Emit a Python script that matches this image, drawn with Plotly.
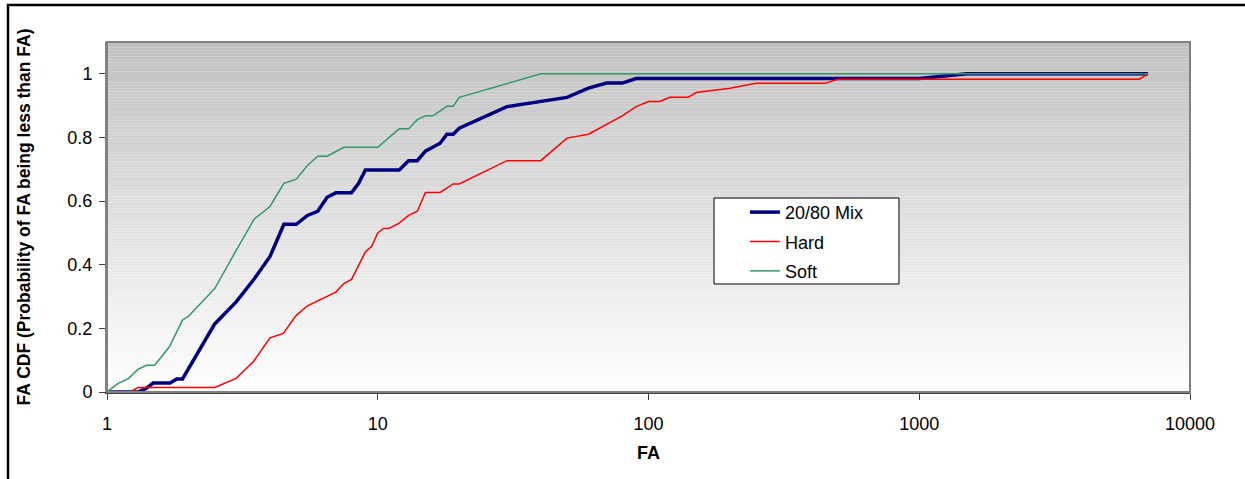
import plotly.graph_objects as go

# ---- data ----
mix_x = [1, 1.3, 1.4, 1.48, 1.71, 1.81, 1.9, 2.5, 3.0, 3.5, 4.0, 4.5, 5.0, 5.5, 6.0, 6.5, 7.0, 8.0, 8.5, 9.0,
         12.0, 13.0, 14.0, 15.0, 17.0, 18.0, 19.0, 20.0, 30.0, 50.0, 60.0, 70.0, 80.0, 90.0, 1000, 1500, 7000]
mix_y = [0, 0, 0.012, 0.028, 0.028, 0.041, 0.041, 0.214, 0.283, 0.356, 0.426, 0.527, 0.527, 0.555, 0.568, 0.612, 0.626, 0.626, 0.656, 0.698,
         0.698, 0.727, 0.727, 0.757, 0.782, 0.81, 0.81, 0.829, 0.897, 0.926, 0.955, 0.971, 0.971, 0.985, 0.985, 1.0, 1.0]

hard_x = [1, 1.22, 1.3, 2.5, 3.0, 3.47, 4.0, 4.48, 5.0, 5.5, 7.0, 7.5, 8.0, 9.0, 9.5, 10.0, 10.5, 11.0, 12.0, 13.0, 14.0,
          15.0, 17.0, 19.0, 20.0, 30.0, 40.0, 50.0, 60.0, 70.0, 80.0, 90.0, 100, 110, 120, 140, 150, 200, 250, 450, 500, 6500, 7000]
hard_y = [0, 0, 0.014, 0.014, 0.043, 0.095, 0.17, 0.184, 0.241, 0.271, 0.314, 0.341, 0.354, 0.44, 0.458, 0.5, 0.514, 0.514, 0.531, 0.555, 0.568,
          0.627, 0.627, 0.654, 0.654, 0.727, 0.727, 0.798, 0.81, 0.84, 0.868, 0.897, 0.913, 0.913, 0.926, 0.926, 0.941, 0.955, 0.97, 0.97, 0.983, 0.983, 1.0]

soft_x = [1, 1.1, 1.2, 1.3, 1.4, 1.5, 1.7, 1.9, 2.0, 2.5, 3.0, 3.5, 4.0, 4.5, 5.0, 5.5, 6.0, 6.5, 7.5, 10.0,
          12.0, 13.0, 14.0, 15.0, 16.0, 18.0, 19.0, 20.0, 40.0, 7000]
soft_y = [0, 0.027, 0.042, 0.071, 0.084, 0.084, 0.142, 0.226, 0.238, 0.325, 0.445, 0.544, 0.583, 0.656, 0.669, 0.712, 0.741, 0.741, 0.769, 0.769,
          0.827, 0.827, 0.856, 0.868, 0.868, 0.898, 0.898, 0.926, 1.0, 1.0]

x_ticks = [1, 10, 100, 1000, 10000]
x_tick_labels = ["1", "10", "100", "1000", "10000"]
y_ticks = [0, 0.2, 0.4, 0.6, 0.8, 1.0]
y_tick_labels = ["0", "0.2", "0.4", "0.6", "0.8", "1"]

FONT = "Liberation Sans, Arial, sans-serif"

fig = go.Figure()
fig.add_trace(go.Scatter(x=mix_x, y=mix_y, mode="lines", name="20/80 Mix", legendgroup="g1",
                         line=dict(color="#000080", width=3.5)))
fig.add_trace(go.Scatter(x=hard_x, y=hard_y, mode="lines", name="Hard", legendgroup="g2",
                         line=dict(color="#FF0000", width=1.5)))
fig.add_trace(go.Scatter(x=soft_x, y=soft_y, mode="lines", name="Soft", legendgroup="g3",
                         line=dict(color="#339966", width=1.5)))

# gradient background: bands from grey (top) to white (bottom)
shapes = []
n = 120
for i in range(n):
    t = (i + 0.5) / n  # 0 bottom -> 1 top
    v = int(round(255 - (255 - 192) * t))
    shapes.append(dict(type="rect", xref="paper", yref="paper",
                       x0=0, x1=1, y0=i / n, y1=(i + 1) / n,
                       fillcolor=f"rgb({v},{v},{v})", line=dict(width=0), layer="below"))
# plot area border (top/right grey)
shapes.append(dict(type="rect", xref="paper", yref="paper", x0=0, x1=1, y0=0, y1=1,
                   line=dict(color="#808080", width=2), layer="above"))
# legend box (white with black border), legend entries drawn on top of it
shapes.append(dict(type="rect", xref="paper", yref="paper", x0=0.5605, x1=0.7313, y0=0.3086, y1=0.5543,
                   fillcolor="white", line=dict(color="#000000", width=1), layer="above"))
# outer chart border (black, left and top visible)
shapes.append(dict(type="rect", xref="paper", yref="paper", x0=-0.0914, x1=1.3, y0=-0.5, y1=1.1057,
                   line=dict(color="#000000", width=2.5), layer="above"))

fig.update_layout(
    width=1245, height=479,
    margin=dict(l=107, r=55, t=42, b=87),
    paper_bgcolor="white",
    plot_bgcolor="rgba(0,0,0,0)",
    font=dict(family=FONT, size=18, color="#000000"),
    shapes=shapes,
    showlegend=True,
    legend=dict(x=0.589, y=0.566, xanchor="left", yanchor="top",
                bgcolor="rgba(0,0,0,0)", borderwidth=0,
                font=dict(family=FONT, size=18, color="#000000"),
                tracegroupgap=3, itemwidth=30),
    xaxis=dict(type="log", range=[0, 4], tickvals=x_ticks, ticktext=x_tick_labels,
               showgrid=False, zeroline=False, showline=True, linecolor="#404040", linewidth=2,
               ticks="outside", ticklen=6, tickcolor="#404040", tickwidth=1,
               tickfont=dict(family=FONT, size=18), ticklabelstandoff=8,
               title=dict(text="<b>FA</b>", font=dict(family=FONT, size=18), standoff=14)),
    yaxis=dict(range=[0, 1.1], tickvals=y_ticks, ticktext=y_tick_labels,
               showgrid=False, zeroline=False, showline=True, linecolor="#808080", linewidth=2,
               ticks="outside", ticklen=6, tickcolor="#404040", tickwidth=1,
               tickfont=dict(family=FONT, size=18), ticklabelstandoff=3,
               title=dict(text="<b>FA CDF (Probability of FA being less than FA)</b>",
                          font=dict(family=FONT, size=17.5), standoff=32)),
)

fig.write_html("out.html")
